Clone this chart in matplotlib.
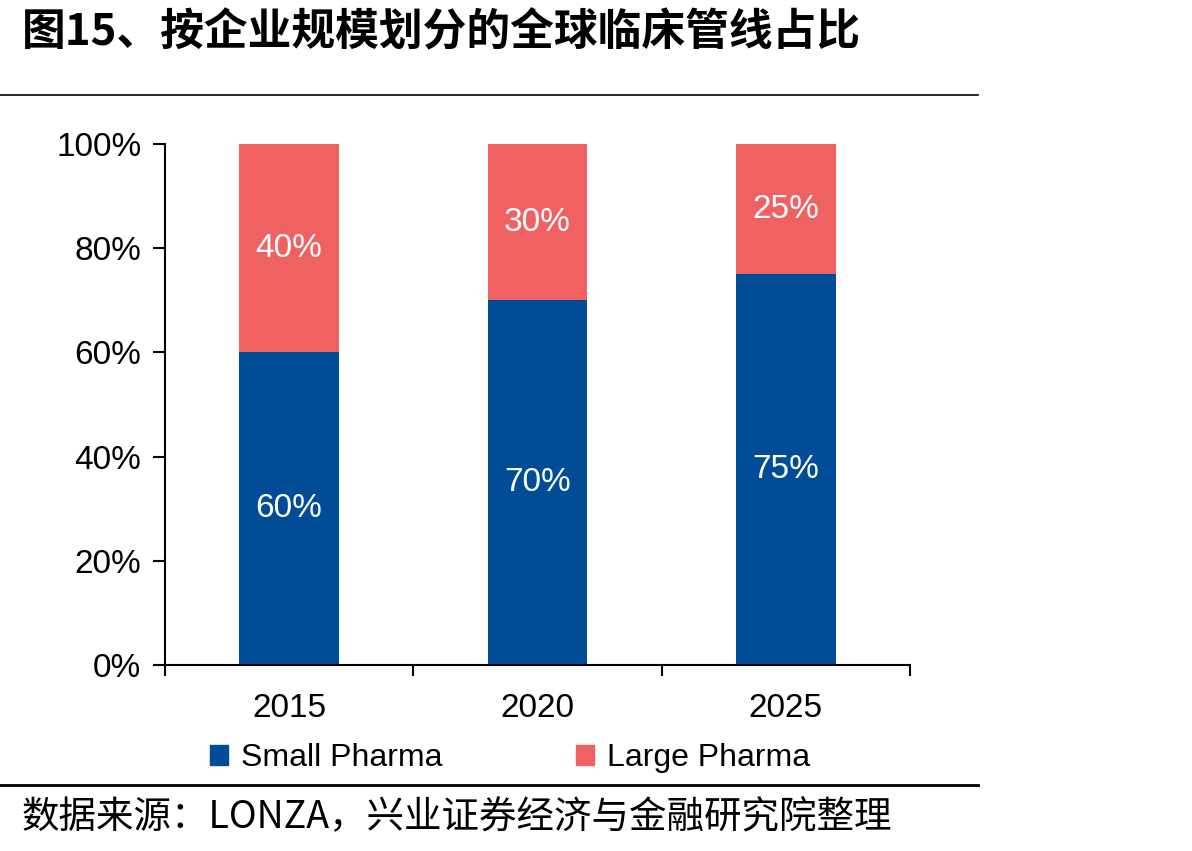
import matplotlib.pyplot as plt
from matplotlib.patches import Patch
from matplotlib.lines import Line2D

# --- Daten ---
years = ['2015', '2020', '2025']
small_pharma = [60, 70, 75]
large_pharma = [40, 30, 25]
y_ticks = [0, 20, 40, 60, 80, 100]

title = '图15、按企业规模划分的全球临床管线占比'
source = '数据来源：LONZA，兴业证券经济与金融研究院整理'

blue = '#004C97'
red = '#F06262'

plt.rcParams['font.family'] = ['Liberation Sans', 'Noto Sans CJK SC']

fig = plt.figure(figsize=(11.92, 8.51), dpi=100)
ax = fig.add_axes([165 / 1192, 186 / 851, 745 / 1192, 521 / 851])

x = range(len(years))
ax.bar(x, small_pharma, width=0.40, color=blue, label='Small Pharma')
ax.bar(x, large_pharma, width=0.40, bottom=small_pharma, color=red, label='Large Pharma')

for i in x:
    ax.text(i, small_pharma[i] / 2, f'{small_pharma[i]}%', ha='center', va='center',
            color='white', fontsize=24)
    ax.text(i, small_pharma[i] + large_pharma[i] / 2, f'{large_pharma[i]}%', ha='center',
            va='center', color='white', fontsize=24)

ax.set_xlim(-0.5, 2.5)
ax.set_ylim(0, 100)
ax.set_yticks(y_ticks)
ax.set_yticklabels([f'{v}%' for v in y_ticks], fontsize=24)
ax.set_xticks([-0.5, 0.5, 1.5, 2.5])
ax.set_xticklabels([])
ax.set_xticks(list(x), minor=True)
ax.set_xticklabels(years, minor=True, fontsize=24)
ax.tick_params(axis='x', which='major', direction='out', length=8, width=1.5)
ax.tick_params(axis='x', which='minor', length=0, pad=20)
ax.tick_params(axis='y', direction='out', length=9, width=1.5, pad=8)
for s in ['top', 'right']:
    ax.spines[s].set_visible(False)
for s in ['left', 'bottom']:
    ax.spines[s].set_linewidth(1.5)

handles = [Patch(color=blue), Patch(color=red)]
ax.legend(handles, ['Small Pharma', 'Large Pharma'], loc='upper center',
          bbox_to_anchor=(0.463, -0.095), ncol=2, frameon=False, fontsize=23,
          handlelength=0.55, handleheight=0.55, handletextpad=0.4, columnspacing=4.2)

# Titel, Linien, Quelle
fig.text(22 / 1192, 1 - 32 / 851, title, fontsize=31.5, fontweight='bold', va='center',
         family=['Noto Sans CJK SC'])
fig.add_artist(Line2D([0, 978 / 1192], [1 - 95 / 851] * 2, color='black', lw=1.2))
fig.add_artist(Line2D([0, 978 / 1192], [1 - 785 / 851] * 2, color='black', lw=2))
fig.text(22 / 1192, 1 - 818 / 851, source, fontsize=27, va='center',
         family=['Noto Sans CJK SC'])

plt.savefig('out.png', dpi=100)
